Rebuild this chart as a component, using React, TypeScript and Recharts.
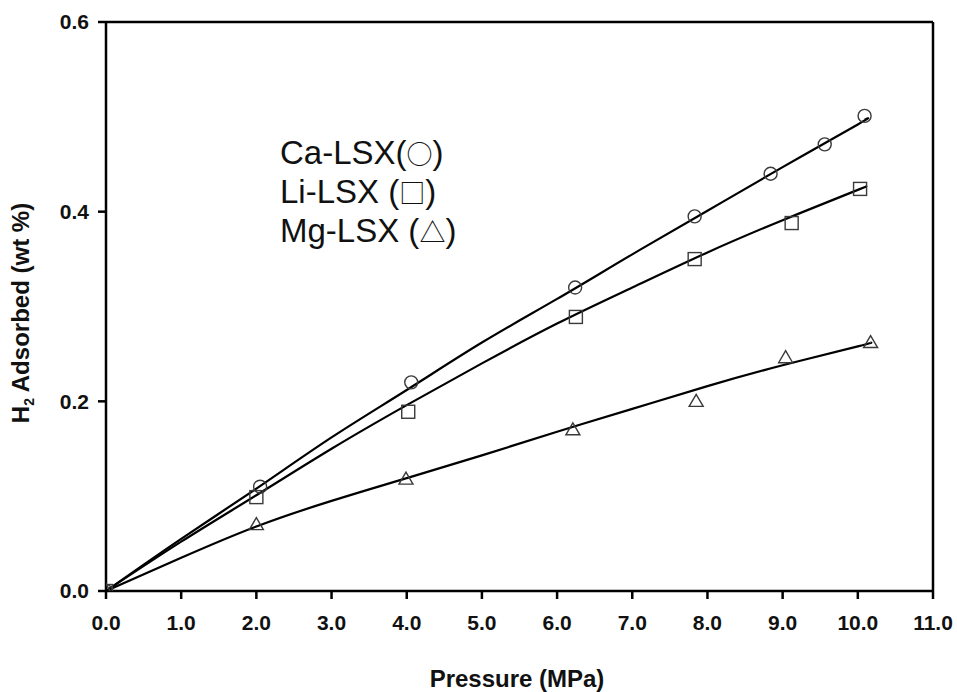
import React from 'react';
import { ComposedChart, Line, Scatter, XAxis, YAxis, ReferenceLine } from 'recharts';

// x ticks (MPa) and y ticks (wt %)
const pressureTicks = [0, 1, 2, 3, 4, 5, 6, 7, 8, 9, 10, 11];
const adsorbedTicks = [0, 0.2, 0.4, 0.6];

// measured points
const caPressure = [0, 2.05, 4.06, 6.24, 7.83, 8.84, 9.56, 10.09];
const caAdsorbed = [0, 0.11, 0.22, 0.32, 0.395, 0.44, 0.471, 0.501];
const liPressure = [0, 2.0, 4.02, 6.25, 7.83, 9.12, 10.03];
const liAdsorbed = [0, 0.099, 0.189, 0.289, 0.35, 0.388, 0.424];
const mgPressure = [0, 2.0, 3.99, 6.21, 7.85, 9.04, 10.17];
const mgAdsorbed = [0, 0.07, 0.118, 0.17, 0.2, 0.246, 0.262];

// fitted curves
const caFitPressure = [0, 1, 2, 3, 4, 5, 6, 7, 8, 9, 10, 10.09];
const caFit = [0, 0.055, 0.108, 0.162, 0.212, 0.262, 0.308, 0.355, 0.401, 0.447, 0.492, 0.497];
const liFitPressure = [0, 1, 2, 3, 4, 5, 6, 7, 8, 9, 10, 10.03];
const liFit = [0, 0.052, 0.101, 0.15, 0.196, 0.24, 0.282, 0.32, 0.357, 0.391, 0.423, 0.424];
const mgFitPressure = [0, 1, 2, 3, 4, 5, 6, 7, 8, 9, 10, 10.17];
const mgFit = [0, 0.035, 0.068, 0.095, 0.119, 0.143, 0.168, 0.192, 0.216, 0.238, 0.258, 0.262];

const zip = (xs: number[], ys: number[]) => xs.map((x, i) => ({ x, y: ys[i] }));

const font = '"Liberation Sans", Arial, sans-serif';
const symbolFont = '"Noto Sans CJK JP", "DejaVu Sans", sans-serif';
const markerStroke = '#3a3a3a';

const Circle = (p: any) => (
    <circle cx={p.cx} cy={p.cy} r={6.5} fill="none" stroke={markerStroke} strokeWidth={1.4} />
);
const Square = (p: any) => (
    <rect x={p.cx - 6.5} y={p.cy - 6.5} width={13} height={13} fill="none" stroke={markerStroke} strokeWidth={1.4} />
);
const Triangle = (p: any) => (
    <polygon
        points={`${p.cx},${p.cy - 7} ${p.cx - 7},${p.cy + 5} ${p.cx + 7},${p.cy + 5}`}
        fill="none"
        stroke={markerStroke}
        strokeWidth={1.4}
    />
);

const tickStyle = { fill: '#111', fontSize: 21, fontWeight: 700, fontFamily: font };
const sym: React.CSSProperties = { fontFamily: symbolFont, fontSize: 26 };
const row: React.CSSProperties = { height: 39, lineHeight: '39px' };

export default function App() {
    return (
        <div style={{ position: 'absolute', left: 0, top: 0, width: 957, height: 692, background: '#fff' }}>
            <ComposedChart width={957} height={692} margin={{ top: 22, right: 24, bottom: 61, left: 46 }}>
                <XAxis
                    type="number"
                    dataKey="x"
                    domain={[0, 11]}
                    ticks={pressureTicks}
                    tickFormatter={(v) => v.toFixed(1)}
                    allowDataOverflow
                    height={40}
                    stroke="#000"
                    strokeWidth={2.5}
                    tickSize={8}
                    tickMargin={16}
                    tick={tickStyle}
                />
                <YAxis
                    type="number"
                    dataKey="y"
                    domain={[0, 0.6]}
                    ticks={adsorbedTicks}
                    tickFormatter={(v) => v.toFixed(1)}
                    allowDataOverflow
                    width={60}
                    stroke="#000"
                    strokeWidth={2.5}
                    tickSize={8}
                    tickMargin={9}
                    tick={tickStyle}
                />
                <ReferenceLine y={0.6} stroke="#000" strokeWidth={2.5} />
                <ReferenceLine x={11} stroke="#000" strokeWidth={2.5} />

                <Line data={zip(caFitPressure, caFit)} dataKey="y" type="natural" stroke="#000" strokeWidth={2.2} dot={false} isAnimationActive={false} />
                <Line data={zip(liFitPressure, liFit)} dataKey="y" type="natural" stroke="#000" strokeWidth={2.2} dot={false} isAnimationActive={false} />
                <Line data={zip(mgFitPressure, mgFit)} dataKey="y" type="natural" stroke="#000" strokeWidth={2.2} dot={false} isAnimationActive={false} />

                <Scatter data={zip(caPressure, caAdsorbed)} shape={Circle} isAnimationActive={false} />
                <Scatter data={zip(liPressure, liAdsorbed)} shape={Square} isAnimationActive={false} />
                <Scatter data={zip(mgPressure, mgAdsorbed)} shape={Triangle} isAnimationActive={false} />
            </ComposedChart>

            <div style={{ position: 'absolute', left: 280, top: 133, fontFamily: font, fontSize: 33, color: '#111', whiteSpace: 'nowrap' }}>
                <div style={row}>Ca-LSX(<span style={sym}>○</span>)</div>
                <div style={row}>Li-LSX (<span style={sym}>□</span>)</div>
                <div style={row}>Mg-LSX (<span style={sym}>△</span>)</div>
            </div>

            <div style={{ position: 'absolute', left: 517, top: 667, transform: 'translateX(-50%)', fontFamily: font, fontSize: 24, fontWeight: 700, lineHeight: '24px', color: '#111', whiteSpace: 'nowrap' }}>
                Pressure (MPa)
            </div>
            <div style={{ position: 'absolute', left: 25, top: 313, transform: 'translate(-50%, -50%) rotate(-90deg)', fontFamily: font, fontSize: 24, fontWeight: 700, lineHeight: '24px', color: '#111', whiteSpace: 'nowrap' }}>
                H<sub style={{ fontSize: 14 }}>2</sub> Adsorbed (wt %)
            </div>
        </div>
    );
}
